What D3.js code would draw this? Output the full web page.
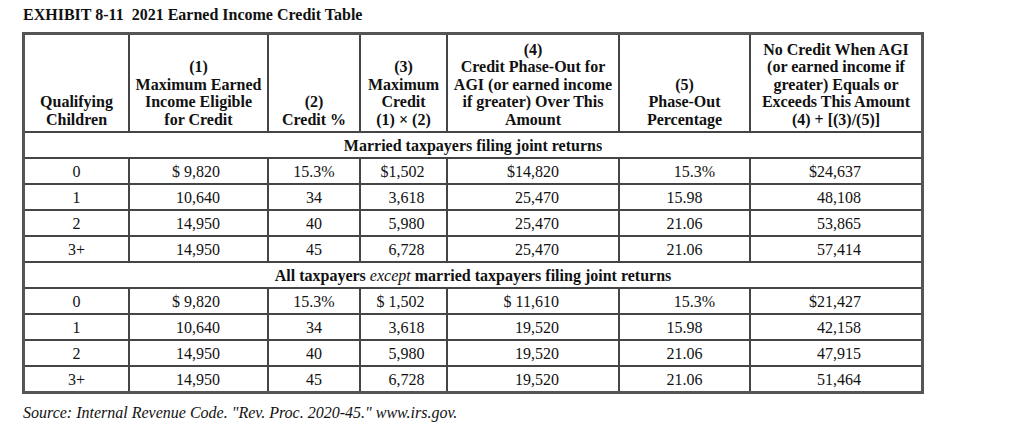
<!DOCTYPE html>
<html>
<head>
<meta charset="utf-8">
<script src="https://cdn.jsdelivr.net/npm/d3@7"></script>
<style>
  html, body { margin: 0; padding: 0; background: #fff; }
  svg { display: block; }
  text { font-family: "Liberation Serif", "Times New Roman", serif; fill: #111; }
</style>
</head>
<body>
<svg id="chart" width="1036" height="435"></svg>
<script>
// ---------------- DATA ----------------
const title = "EXHIBIT 8-11\u00a0\u00a02021 Earned Income Credit Table";
const source = "Source: Internal Revenue Code. \"Rev. Proc. 2020-45.\" www.irs.gov.";

const headers = [
  ["Qualifying", "Children"],
  ["(1)", "Maximum Earned", "Income Eligible", "for Credit"],
  ["(2)", "Credit %"],
  ["(3)", "Maximum", "Credit", "(1) \u00d7 (2)"],
  ["(4)", "Credit Phase-Out for", "AGI (or earned income", "if greater) Over This", "Amount"],
  ["(5)", "Phase-Out", "Percentage"],
  ["No Credit When AGI", "(or earned income if", "greater) Equals or", "Exceeds This Amount", "(4) + [(3)/(5)]"]
];

const qualifyingChildren = ["0", "1", "2", "3+"];
const maxEarnedIncome = ["$ 9,820", "10,640", "14,950", "14,950"];
const creditPct = ["15.3%", "34", "40", "45"];
const phaseOutPct = ["15.3%", "15.98", "21.06", "21.06"];

const jointMaxCredit = ["$1,502", "3,618", "5,980", "6,728"];
const jointPhaseOutStart = ["$14,820", "25,470", "25,470", "25,470"];
const jointNoCredit = ["$24,637", "48,108", "53,865", "57,414"];

const otherMaxCredit = ["$ 1,502", "3,618", "5,980", "6,728"];
const otherPhaseOutStart = ["$ 11,610", "19,520", "19,520", "19,520"];
const otherNoCredit = ["$21,427", "42,158", "47,915", "51,464"];

const sectionTitles = [
  [{t: "Married taxpayers filing joint returns", s: "bold"}],
  [{t: "All taxpayers ", s: "bold"}, {t: "except", s: "italic"}, {t: " married taxpayers filing joint returns", s: "bold"}]
];

// ---------------- LAYOUT ----------------
const svg = d3.select("#chart");
const colEdges = [24, 129, 268, 360, 447, 619, 750, 922];
const tableTop = 34, headerBottom = 132, rowH = 26;
// text alignment per column: [anchor, offset from column centre]
const colAlign = [["middle", 0], ["end", 21.5], ["middle", 0], ["end", 21], ["end", 26], ["middle", 0], ["end", 25]];

// Build row list
const rows = [];
const sections = [
  {title: sectionTitles[0], cols: [qualifyingChildren, maxEarnedIncome, creditPct, jointMaxCredit, jointPhaseOutStart, phaseOutPct, jointNoCredit]},
  {title: sectionTitles[1], cols: [qualifyingChildren, maxEarnedIncome, creditPct, otherMaxCredit, otherPhaseOutStart, phaseOutPct, otherNoCredit]}
];
sections.forEach(sec => {
  rows.push({type: "section", title: sec.title});
  qualifyingChildren.forEach((_, i) => rows.push({type: "data", cells: sec.cols.map(c => c[i])}));
});

const y = d3.scaleLinear().domain([0, rows.length]).range([headerBottom, headerBottom + rows.length * rowH]);
const tableBottom = y(rows.length);
const colCenter = i => (colEdges[i] + colEdges[i + 1]) / 2;

// Title
svg.append("text")
  .attr("x", 23).attr("y", 20)
  .style("font-size", "16px").style("font-weight", "bold")
  .attr("fill", "#111")
  .text(title);

// Header text (bottom-aligned)
const lineH = 17.5;
headers.forEach((lines, ci) => {
  const n = lines.length;
  svg.append("g").selectAll("text").data(lines).join("text")
    .attr("x", colCenter(ci))
    .attr("y", (d, i) => headerBottom - 7.5 - (n - 1 - i) * lineH)
    .attr("text-anchor", "middle")
    .style("font-size", "16px").style("font-weight", "bold")
    .text(d => d);
});

// Rows
rows.forEach((r, ri) => {
  const yTop = y(ri), yMid = (y(ri) + y(ri + 1)) / 2;
  if (r.type === "section") {
    const t = svg.append("text")
      .attr("x", (colEdges[0] + colEdges[colEdges.length - 1]) / 2)
      .attr("y", yMid + 5.5)
      .attr("text-anchor", "middle")
      .attr("xml:space", "preserve")
      .style("font-size", "16px");
    t.selectAll("tspan").data(r.title).join("tspan")
      .style("font-weight", d => d.s === "bold" ? "bold" : "normal")
      .style("font-style", d => d.s === "italic" ? "italic" : "normal")
      .text(d => d.t);
  } else {
    svg.append("g").selectAll("text").data(r.cells).join("text")
      .attr("x", (d, ci) => colCenter(ci) + colAlign[ci][1])
      .attr("dx", (d, ci) => (ci === 5 && /%$/.test(d)) ? 10 : 0)
      .attr("y", yMid + 5.5)
      .attr("text-anchor", (d, ci) => colAlign[ci][0])
      .attr("xml:space", "preserve")
      .style("font-size", "16px")
      .text(d => d);
  }
});

// Grid lines
const grid = svg.append("g").attr("stroke", "#454545").attr("stroke-width", 2).attr("fill", "none");
// horizontal lines
const hLines = [headerBottom].concat(rows.map((r, i) => y(i + 1)).slice(0, -1));
grid.selectAll("line.h").data(hLines).join("line")
  .attr("x1", colEdges[0]).attr("x2", colEdges[colEdges.length - 1])
  .attr("y1", d => d).attr("y2", d => d);
// vertical lines: header + data rows
const vSegs = [];
colEdges.slice(1, -1).forEach(x => {
  vSegs.push({x, y1: tableTop, y2: headerBottom});
  rows.forEach((r, i) => { if (r.type === "data") vSegs.push({x, y1: y(i), y2: y(i + 1)}); });
});
grid.selectAll("line.v").data(vSegs).join("line")
  .attr("x1", d => d.x).attr("x2", d => d.x)
  .attr("y1", d => d.y1).attr("y2", d => d.y2);
// outer border
svg.append("rect")
  .attr("x", colEdges[0] - 0.5).attr("y", tableTop - 0.5)
  .attr("width", colEdges[colEdges.length - 1] - colEdges[0] + 1)
  .attr("height", tableBottom - tableTop + 1)
  .attr("fill", "none").attr("stroke", "#555").attr("stroke-width", 3);

// Source
svg.append("text")
  .attr("x", 23).attr("y", 418)
  .style("font-size", "16px").style("font-style", "italic")
  .attr("fill", "#222")
  .text(source);
</script>
</body>
</html>
